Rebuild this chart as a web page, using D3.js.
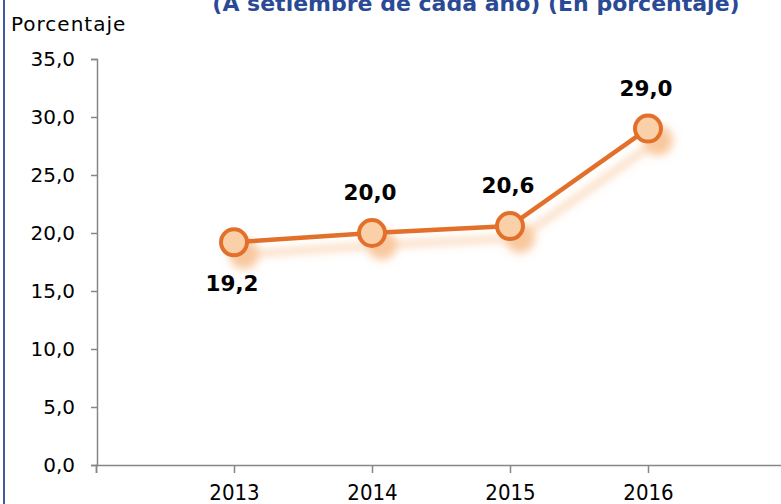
<!DOCTYPE html>
<html>
<head>
<meta charset="utf-8">
<script src="https://cdn.jsdelivr.net/npm/d3@7"></script>
<style>
    body { margin: 0; background: #fff; }
    svg { display: block; }
</style>
</head>
<body>
<div id="chart"></div>
<script>
var years = [2013, 2014, 2015, 2016],
    values = [19.2, 20.0, 20.6, 29.0],
    labelPos = ['below', 'above', 'above', 'above'],
    yTicks = [0, 5, 10, 15, 20, 25, 30, 35],
    title = '(A setiembre de cada año)  (En porcentaje)',
    yTitle = 'Porcentaje';

var width = 781, height = 504,
    fmt = d => d.toFixed(1).replace('.', ',');

var svg = d3.select('#chart').append('svg')
    .attr('width', width)
    .attr('height', height);

// Shadow filter
var defs = svg.append('defs');
var filter = defs.append('filter').attr('id', 'shadow')
    .attr('x', '-20%').attr('y', '-40%').attr('width', '140%').attr('height', '180%');
filter.append('feGaussianBlur').attr('in', 'SourceAlpha').attr('stdDeviation', 4).attr('result', 'blur');
filter.append('feOffset').attr('in', 'blur').attr('dx', 10).attr('dy', 12).attr('result', 'off');
filter.append('feFlood').attr('flood-color', '#f6b67e').attr('flood-opacity', 0.75);
filter.append('feComposite').attr('in2', 'off').attr('operator', 'in').attr('result', 'sh');
var merge = filter.append('feMerge');
merge.append('feMergeNode').attr('in', 'sh');
merge.append('feMergeNode').attr('in', 'SourceGraphic');

// Left frame line
svg.append('line')
    .attr('x1', 4).attr('x2', 4).attr('y1', 0).attr('y2', height)
    .attr('stroke', '#3d5b9c').attr('stroke-width', 2);

// Title (clipped at top)
svg.append('text')
    .attr('x', 476).attr('y', 11)
    .attr('text-anchor', 'middle')
    .attr('font-family', 'DejaVu Sans')
    .attr('font-weight', 'bold')
    .attr('font-size', 22)
    .attr('fill', '#2a4a96')
    .text(title);

var x = d3.scaleLinear().domain([2012, 2017]).range([96, 786]);
var y = d3.scaleLinear().domain([0, 35]).range([465, 59]);

// Y axis
var yAxis = svg.append('g')
    .attr('transform', 'translate(97,0)')
    .call(d3.axisLeft(y).tickValues(yTicks).tickFormat(fmt).tickSize(6).tickPadding(16));
yAxis.select('.domain').attr('stroke', '#868686').attr('stroke-width', 1.5);
yAxis.selectAll('.tick line').attr('stroke', '#868686').attr('stroke-width', 1.5);
yAxis.selectAll('.tick text')
    .attr('font-family', 'DejaVu Sans')
    .attr('font-size', 20)
    .attr('fill', '#000');

// X axis
var xAxis = svg.append('g')
    .attr('transform', 'translate(0,465)')
    .call(d3.axisBottom(x).tickValues([2012].concat(years)).tickFormat(d => years.includes(d) ? d : '').tickSizeOuter(0).tickSize(8).tickPadding(11));
xAxis.select('.domain').attr('stroke', '#868686').attr('stroke-width', 1.5);
xAxis.selectAll('.tick line').attr('stroke', '#868686').attr('stroke-width', 1.5);
xAxis.selectAll('.tick text')
    .attr('font-family', 'DejaVu Sans Condensed')
    .attr('font-size', 22)
    .attr('fill', '#000');

// Y title
svg.append('text')
    .attr('x', 11).attr('y', 31)
    .attr('font-family', 'DejaVu Sans')
    .attr('font-size', 20)
    .attr('letter-spacing', 1)
    .attr('fill', '#000')
    .text(yTitle);

var data = years.map((d, i) => ({ year: d, value: values[i], pos: labelPos[i] }));

// Line and markers
var series = svg.append('g').attr('filter', 'url(#shadow)');

series.append('path')
    .datum(data)
    .attr('fill', 'none')
    .attr('stroke', '#e2702a')
    .attr('stroke-width', 4.5)
    .attr('d', d3.line().x(d => x(d.year)).y(d => y(d.value)));

series.selectAll('circle')
    .data(data)
    .enter().append('circle')
    .attr('cx', d => x(d.year))
    .attr('cy', d => y(d.value))
    .attr('r', 13)
    .attr('fill', '#fad0a8')
    .attr('stroke', '#e2702a')
    .attr('stroke-width', 4);

// Value labels
svg.selectAll('.val')
    .data(data)
    .enter().append('text')
    .attr('class', 'val')
    .attr('x', d => x(d.year) - 2)
    .attr('y', d => d.pos === 'below' ? y(d.value) + 49 : y(d.value) - 33)
    .attr('text-anchor', 'middle')
    .attr('font-family', 'DejaVu Sans')
    .attr('font-weight', 'bold')
    .attr('font-size', 21.5)
    .attr('fill', '#000')
    .text(d => fmt(d.value));
</script>
</body>
</html>
